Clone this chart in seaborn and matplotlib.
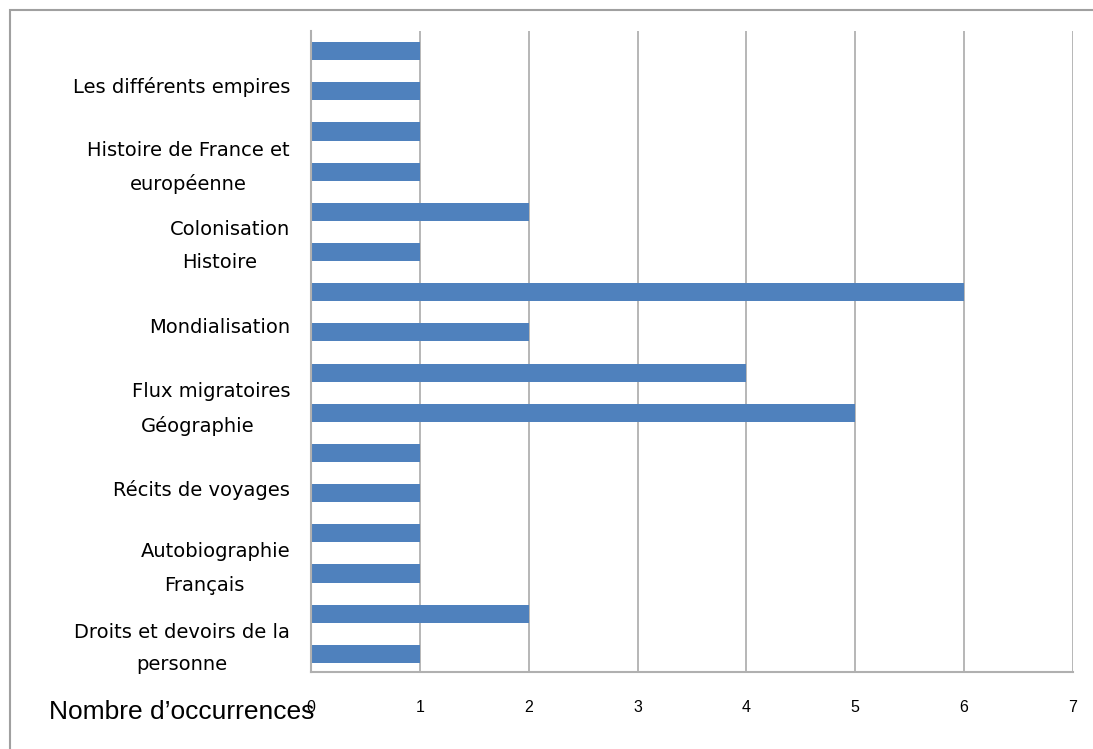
import matplotlib
matplotlib.use("Agg")
import matplotlib.pyplot as plt
import seaborn as sns
import pandas as pd
from matplotlib.patches import Rectangle
from matplotlib.transforms import blended_transform_factory

# ---- data ----
values = [1, 1, 1, 1, 2, 1, 6, 2, 4, 5, 1, 1, 1, 1, 2, 1]
bar_ids = [f"b{i:02d}" for i in range(len(values))]
axis_labels = [
    "Les différents empires",
    "Histoire de France et\neuropéenne",
    "Colonisation",
    "Histoire",
    "Mondialisation",
    "Flux migratoires",
    "Géographie",
    "Récits de voyages",
    "Autobiographie",
    "Français",
    "Droits et devoirs de la\npersonne",
]
x_ticks = [0, 1, 2, 3, 4, 5, 6, 7]
x_title = "Nombre d’occurrences"

df = pd.DataFrame({"id": bar_ids, "value": values})

# ---- layout ----
W, H = 1093, 749
sns.set_style("white")
plt.rcParams["font.family"] = ["DejaVu Sans"]
fig = plt.figure(figsize=(W / 100, H / 100), dpi=100)
ax = fig.add_axes([311 / W, 1 - 672 / H, (1073 - 311) / W, (672 - 31) / H])

sns.barplot(data=df, x="value", y="id", orient="h", color="#4F81BD",
            saturation=1, width=0.45, ax=ax, order=bar_ids, linewidth=0)

ax.set_xlim(0, 7)
ax.set_ylim(15.45, -0.5)
ax.set_xticks(x_ticks)
ax.set_xticklabels([str(t) for t in x_ticks], fontsize=11.5,
                   fontfamily="Liberation Sans", color="#000000")
ax.set_yticks([])
ax.set_xlabel("")
ax.set_ylabel("")
ax.tick_params(axis="x", length=0, pad=20)
ax.xaxis.grid(True, color="#aaaaaa", lw=1.2)
ax.set_axisbelow(True)
for s in ["top", "right"]:
    ax.spines[s].set_visible(False)
for s in ["left", "bottom"]:
    ax.spines[s].set_color("#b0b0b0")
    ax.spines[s].set_linewidth(1.5)

# category labels (misaligned group labels, as in the original)
label_y = [0.9, 2.89, 4.45, 5.27, 6.87, 8.46, 9.33, 10.92, 12.46, 13.31, 14.86]
label_x = [290, 290, 290, None, 290, 290, None, 290, 290, None, 290]
label_cx = {3: 220, 6: 198, 9: 204}
tr = blended_transform_factory(fig.transFigure, ax.transData)
for i, (txt, yy) in enumerate(zip(axis_labels, label_y)):
    if label_x[i] is not None:
        ax.text(label_x[i] / W, yy, txt, transform=tr, ha="right", va="center",
                multialignment="center", fontsize=14, linespacing=1.85,
                color="#000000")
    else:
        ax.text(label_cx[i] / W, yy, txt, transform=tr, ha="center",
                va="center", fontsize=14, color="#000000")

fig.text(49 / W, 1 - 712 / H, x_title, ha="left", va="center", fontsize=19,
         fontfamily="Liberation Sans", color="#000000")

fig.patches.append(Rectangle((9.5 / W, -0.1), 1.2, 1 - 10.5 / H + 0.1,
                             transform=fig.transFigure, fill=False,
                             ec="#a0a0a0", lw=1.5))

fig.savefig("out.png", dpi=100)
